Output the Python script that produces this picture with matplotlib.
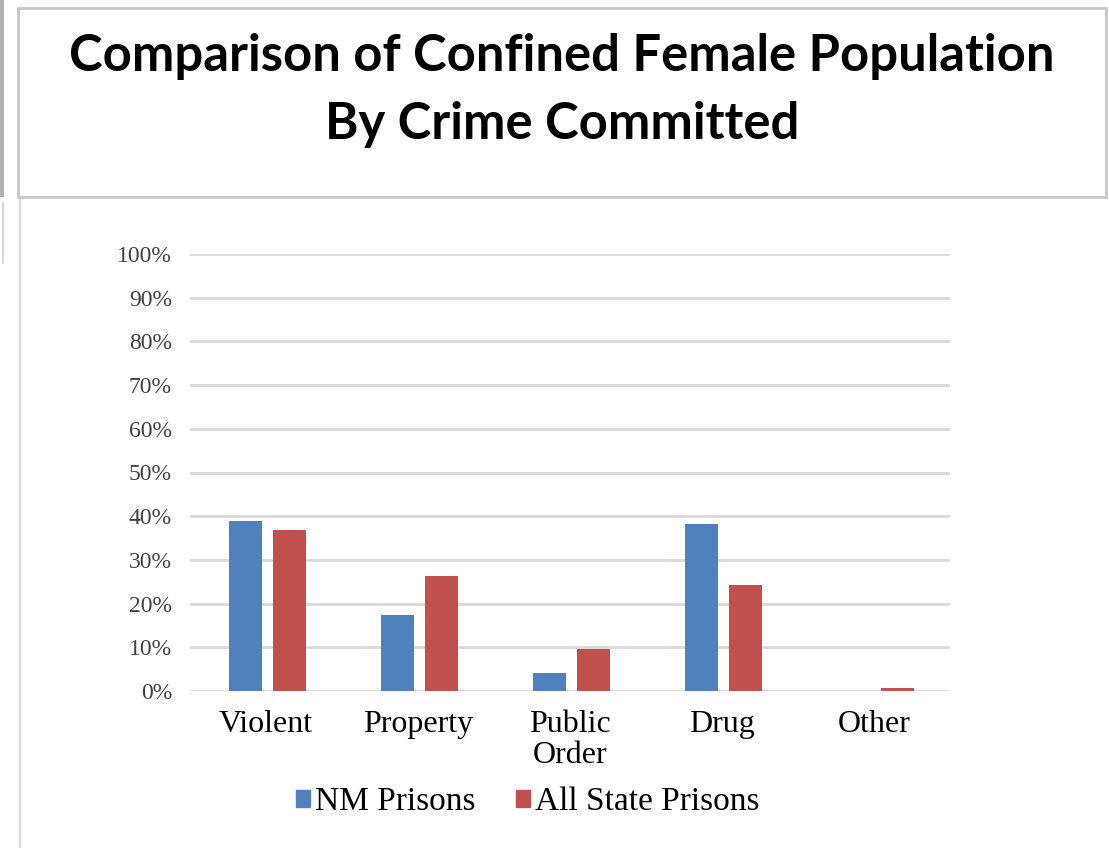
import numpy as np
import matplotlib.pyplot as plt
from matplotlib.patches import Rectangle
from matplotlib.lines import Line2D

categories = ['Violent', 'Property', 'Public\nOrder', 'Drug', 'Other']
nm_prisons = [38.9, 17.4, 4.1, 38.2, 0.0]
all_state = [36.8, 26.3, 9.6, 24.3, 0.7]
yticks = np.arange(0, 101, 10)

blue = '#4f81bd'
red = '#c0504d'

fig = plt.figure(figsize=(11.09, 8.48), dpi=100)

# title box
fig.patches.append(Rectangle((18 / 1109, 1 - 197 / 848), (1106 - 18) / 1109, (197 - 8) / 848,
                             transform=fig.transFigure, fill=False, edgecolor='#c8c8c8', linewidth=2))
# left edge of the chart frame and stray border on the far left
fig.lines.append(Line2D([20 / 1109, 20 / 1109], [0, 1 - 200 / 848], transform=fig.transFigure,
                        color='#d8d8d8', linewidth=1.5))
fig.lines.append(Line2D([1.5 / 1109, 1.5 / 1109], [1 - 195 / 848, 1], transform=fig.transFigure,
                        color='#b0b0b0', linewidth=3))
fig.lines.append(Line2D([3 / 1109, 3 / 1109], [0.69, 1 - 203 / 848], transform=fig.transFigure,
                        color='#d0d0d0', linewidth=1.2))

fig.text(562 / 1109, 1 - 57 / 848, 'Comparison of Confined Female Population',
         ha='center', va='center', fontsize=36.5, fontweight='bold', family='Lato')
fig.text(562 / 1109, 1 - 124 / 848, 'By Crime Committed',
         ha='center', va='center', fontsize=36.5, fontweight='bold', family='Lato')

ax = fig.add_axes([190 / 1109, 1 - 691 / 848, 760 / 1109, (691 - 254) / 848])

x = np.arange(len(categories))
w = 0.22
off = 0.144
ax.bar(x - off + 0.01, nm_prisons, w, color=blue, label='NM Prisons', zorder=3)
ax.bar(x + off + 0.01, all_state, w, color=red, label='All State Prisons', zorder=3)

ax.set_xlim(-0.5, len(categories) - 0.5)
ax.set_ylim(0, 100)
ax.set_yticks(yticks)
ax.set_yticklabels([f'{v}%' for v in yticks], family='Liberation Serif', fontsize=17, color='#404040')
ax.set_xticks(x)
ax.set_xticklabels(categories, family='Liberation Serif', fontsize=23, linespacing=1.05)
ax.tick_params(axis='both', length=0)
ax.tick_params(axis='y', pad=13)
ax.tick_params(axis='x', pad=14)
ax.grid(axis='y', color='#d9d9d9', linewidth=2, zorder=0)
for s in ax.spines.values():
    s.set_visible(False)

handles = [Rectangle((0, 0), 1, 1, color=blue), Rectangle((0, 0), 1, 1, color=red)]
fig.legend(handles, ['NM Prisons', 'All State Prisons'], loc='center',
           bbox_to_anchor=(528 / 1109, 1 - 802 / 848), ncol=2, frameon=False,
           prop={'family': 'Liberation Serif', 'size': 24},
           handlelength=0.42, handleheight=0.42, handletextpad=0.15, columnspacing=1.2)

fig.savefig('out.png', dpi=100)
